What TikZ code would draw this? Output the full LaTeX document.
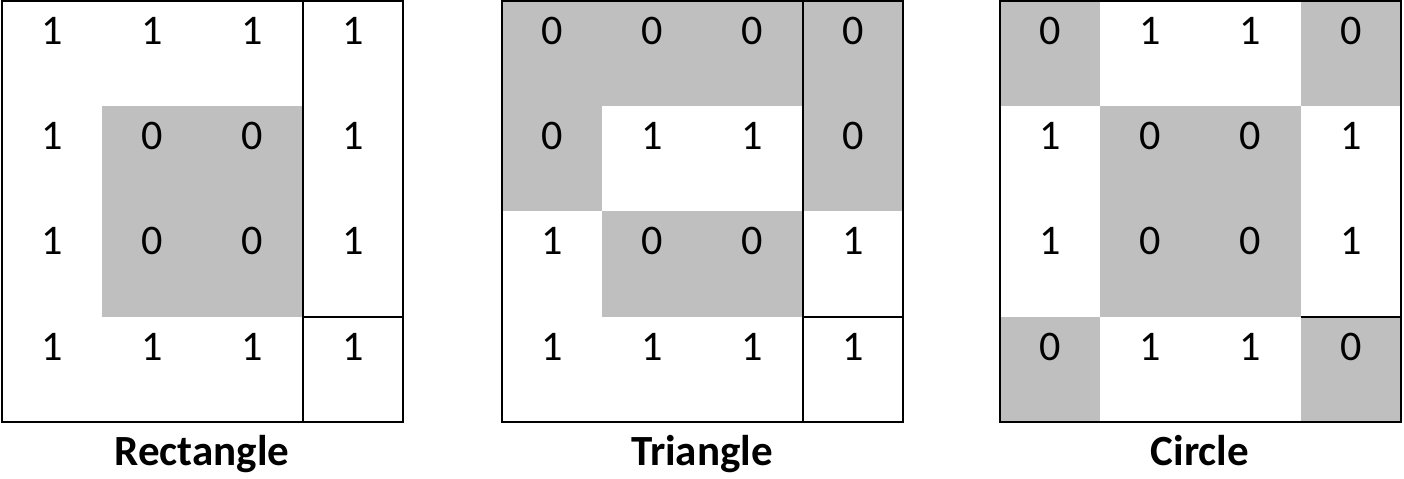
\documentclass[tikz,border=0pt]{standalone}
\usepackage{fontspec}
\setmainfont{Carlito}
\usepackage{tikz}
\usetikzlibrary{positioning}
\definecolor{cellgray}{RGB}{191,191,191}

% shade one cell: grid left edge, column, row (counted from 0)
\newcommand{\shadecell}[3]{%
  \fill[cellgray] ({#1+#2*100.25},{1+#3*105.2}) rectangle +(100.25,105.2);}

\begin{document}
\begin{tikzpicture}[
    x=0.02cm, y=-0.02cm,
    bit/.style={inner sep=0pt, font=\fontsize{24}{24}\selectfont},
    caption/.style={inner sep=0pt, anchor=base, font=\fontsize{24.5}{24.5}\selectfont\bfseries},
    gridline/.style={line width=1.1pt}
]
\useasboundingbox (0,0) rectangle (1404,479);

% Rectangle
\foreach \c/\r in {1/1,2/1,1/2,2/2} {\shadecell{2}{\c}{\r}}
\foreach \v [count=\k from 0] in {1,1,1,1, 1,0,0,1, 1,0,0,1, 1,1,1,1} {
    \pgfmathtruncatemacro\cc{mod(\k,4)}
    \pgfmathtruncatemacro\rr{div(\k,4)}
    \node[bit] (rect-\rr-\cc) at ({2+(\cc+0.5)*100.25},{31+\rr*105.2}) {\v};
}
\draw[gridline] (2,1) rectangle (403,422);
\draw[gridline] (302.75,1) -- (302.75,422);
\draw[gridline] (302.75,316.6) -- (403,316.6);
\node[caption] (rectname) at (202,466) {Rectangle};

% Triangle
\foreach \c/\r in {0/0,1/0,2/0,3/0,0/1,3/1,1/2,2/2} {\shadecell{502}{\c}{\r}}
\foreach \v [count=\k from 0] in {0,0,0,0, 0,1,1,0, 1,0,0,1, 1,1,1,1} {
    \pgfmathtruncatemacro\cc{mod(\k,4)}
    \pgfmathtruncatemacro\rr{div(\k,4)}
    \node[bit] (tri-\rr-\cc) at ({502+(\cc+0.5)*100.25},{31+\rr*105.2}) {\v};
}
\draw[gridline] (502,1) rectangle (903,422);
\draw[gridline] (802.75,1) -- (802.75,422);
\draw[gridline] (802.75,316.6) -- (903,316.6);
\node[caption] (triname) at (702,466) {Triangle};

% Circle
\foreach \c/\r in {0/0,3/0,1/1,2/1,1/2,2/2,0/3,3/3} {\shadecell{1000}{\c}{\r}}
\foreach \v [count=\k from 0] in {0,1,1,0, 1,0,0,1, 1,0,0,1, 0,1,1,0} {
    \pgfmathtruncatemacro\cc{mod(\k,4)}
    \pgfmathtruncatemacro\rr{div(\k,4)}
    \node[bit] (circ-\rr-\cc) at ({1000+(\cc+0.5)*100.25},{31+\rr*105.2}) {\v};
}
\draw[gridline] (1000,1) rectangle (1401,422);
\draw[gridline] (1300.75,316.6) -- (1401,316.6);
\node[caption] (circname) at (1200,466) {Circle};

\end{tikzpicture}
\end{document}
